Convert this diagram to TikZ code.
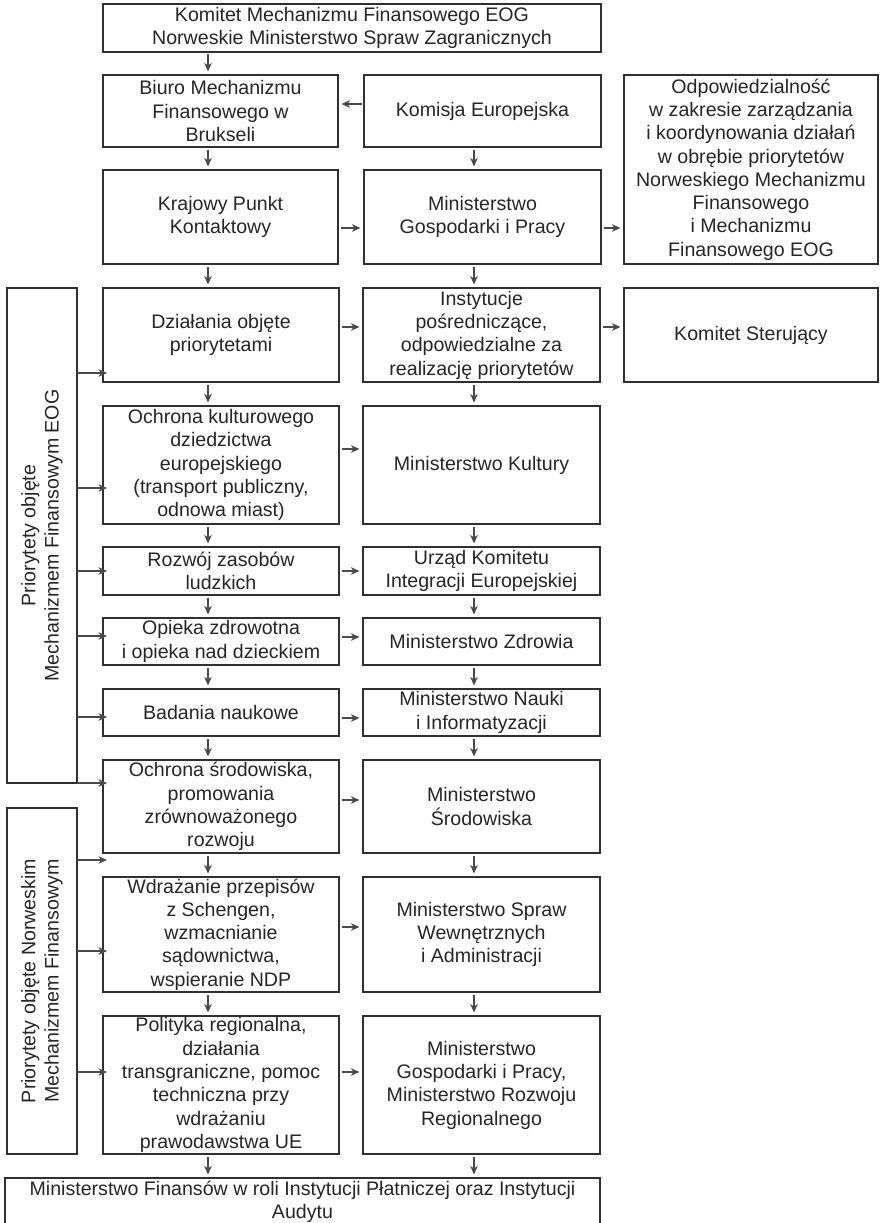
\documentclass[tikz,border=0pt]{standalone}
\usepackage{fontspec}
\setmainfont{Liberation Sans}
\usetikzlibrary{arrows.meta,calc}
\definecolor{ln}{HTML}{303030}
\definecolor{ar}{HTML}{4a4a4a}
\newcommand\BoxAt[6]{\node[box, minimum width={(#4-#2)*1pt}, minimum height={(#5-#3)*1pt}] (#1) at ({(#2+#4)/2},{(#3+#5)/2}) {#6};}
\newcommand\HArr[3]{\coordinate (h#1#2) at (0,#3); \draw[arr] (#1.east |- h#1#2) -- (#2.west |- h#1#2);}
\newcommand\VArr[3]{\coordinate (v#1#2) at (#3,0); \draw[arr] (#1.south -| v#1#2) -- (#2.north -| v#1#2);}
\newcommand\LArr[3]{\coordinate (l#1#2) at (0,#3); \draw[larr] (#1.south |- l#1#2) -- (#2.west |- l#1#2);}
\begin{document}
\begin{tikzpicture}[x=1pt,y=-1pt,
 box/.style={draw=ln, line width=1.2pt, inner sep=0pt, outer sep=0pt, align=center, text=black!85, font=\fontsize{19.6}{23.3}\selectfont},
 arr/.style={draw=ar, line width=1.3pt, -{Stealth[length=8.5pt,width=7.5pt,inset=2.5pt]}, shorten >=3.5pt, shorten <=2.5pt},
 larr/.style={draw=ar, line width=1.3pt, -{Stealth[length=8.5pt,width=7.5pt,inset=2.5pt]}, shorten >=-4pt}]
\useasboundingbox[fill=white] (0,0) rectangle (880,1223);

\BoxAt{top}{103}{4}{601}{52}{Komitet Mechanizmu Finansowego EOG\\Norweskie Ministerstwo Spraw Zagranicznych}
\BoxAt{biuro}{103}{75}{338}{147}{Biuro Mechanizmu\\Finansowego w\\Brukseli}
\BoxAt{kom}{364}{75}{601}{147}{Komisja Europejska}
\BoxAt{odp}{624}{75}{878}{264}{Odpowiedzialność\\w zakresie zarządzania\\i koordynowania działań\\w obrębie priorytetów\\Norweskiego Mechanizmu\\Finansowego\\i Mechanizmu\\Finansowego EOG}
\BoxAt{kraj}{103}{170}{338}{264}{Krajowy Punkt\\Kontaktowy}
\BoxAt{mg}{364}{170}{601}{264}{Ministerstwo\\Gospodarki i Pracy}
\BoxAt{dz}{103}{288}{339}{382}{Działania objęte\\priorytetami}
\BoxAt{inst}{363}{288}{600}{382}{Instytucje\\pośredniczące,\\odpowiedzialne za\\realizację priorytetów}
\BoxAt{ks}{624}{288}{878}{382}{Komitet Sterujący}
\BoxAt{ochk}{103}{406}{339}{524}{Ochrona kulturowego\\dziedzictwa\\europejskiego\\(transport publiczny,\\odnowa miast)}
\BoxAt{kult}{363}{406}{600}{524}{Ministerstwo Kultury}
\BoxAt{roz}{103}{547}{339}{595}{Rozwój zasobów\\ludzkich}
\BoxAt{urz}{363}{547}{600}{595}{Urząd Komitetu\\Integracji Europejskiej}
\BoxAt{opi}{103}{618}{339}{665}{Opieka zdrowotna\\i opieka nad dzieckiem}
\BoxAt{zdr}{363}{618}{600}{665}{Ministerstwo Zdrowia}
\BoxAt{bad}{103}{689}{339}{736}{Badania naukowe}
\BoxAt{nauk}{363}{689}{600}{736}{Ministerstwo Nauki\\i Informatyzacji}
\BoxAt{ochs}{103}{760}{339}{853}{Ochrona środowiska,\\promowania\\zrównoważonego\\rozwoju}
\BoxAt{sr}{363}{760}{600}{853}{Ministerstwo\\Środowiska}
\BoxAt{wdr}{103}{877}{339}{992}{Wdrażanie przepisów\\z Schengen,\\wzmacnianie\\sądownictwa,\\wspieranie NDP}
\BoxAt{msw}{363}{877}{600}{992}{Ministerstwo Spraw\\Wewnętrznych\\i Administracji}
\BoxAt{pol}{103}{1016}{339}{1154}{Polityka regionalna,\\działania\\transgraniczne, pomoc\\techniczna przy\\wdrażaniu\\prawodawstwa UE}
\BoxAt{mgr}{363}{1016}{600}{1154}{Ministerstwo\\Gospodarki i Pracy,\\Ministerstwo Rozwoju\\Regionalnego}
\BoxAt{fin}{5}{1178}{600}{1225}{Ministerstwo Finansów w roli Instytucji Płatniczej oraz Instytucji\\Audytu}

\node[box, rotate=90, minimum width=495pt, minimum height=70pt] (eog) at (42,535.5) {Priorytety objęte\\Mechanizmem Finansowym EOG};
\node[box, rotate=90, minimum width=346pt, minimum height=70pt] (nor) at (42,981) {Priorytety objęte Norweskim\\Mechanizmem Finansowym};

% vertical arrows
\VArr{top}{biuro}{208}
\VArr{biuro}{kraj}{208}
\VArr{kom}{mg}{474}
\VArr{kraj}{dz}{208}
\VArr{mg}{inst}{474}
\VArr{dz}{ochk}{208}
\VArr{inst}{kult}{474}
\VArr{ochk}{roz}{208}
\VArr{kult}{urz}{474}
\VArr{roz}{opi}{208}
\VArr{urz}{zdr}{474}
\VArr{opi}{bad}{208}
\VArr{zdr}{nauk}{474}
\VArr{bad}{ochs}{208}
\VArr{nauk}{sr}{474}
\VArr{ochs}{wdr}{208}
\VArr{sr}{msw}{474}
\VArr{wdr}{pol}{208}
\VArr{msw}{mgr}{474}
\VArr{pol}{fin}{208}
\VArr{mgr}{fin}{474}

% horizontal arrows
\coordinate (hkb) at (0,104);
\draw[arr] (kom.west |- hkb) -- (biuro.east |- hkb);
\HArr{kraj}{mg}{228}
\HArr{mg}{odp}{228}
\HArr{dz}{inst}{327}
\HArr{inst}{ks}{327}
\HArr{ochk}{kult}{449}
\HArr{roz}{urz}{571}
\HArr{opi}{zdr}{637}
\HArr{bad}{nauk}{718}
\HArr{ochs}{sr}{800}
\HArr{wdr}{msw}{927}
\HArr{pol}{mgr}{1072}

% arrows from the priority boxes
\LArr{eog}{dz}{373}
\LArr{eog}{ochk}{488}
\LArr{eog}{roz}{571}
\LArr{eog}{opi}{636}
\LArr{eog}{bad}{717}
\LArr{eog}{ochs}{783}
\LArr{nor}{wdr}{860}
\coordinate (lnorwdrb) at (0,951);
\draw[larr] (nor.south |- lnorwdrb) -- (wdr.west |- lnorwdrb);
\LArr{nor}{pol}{1072}
\end{tikzpicture}
\end{document}
